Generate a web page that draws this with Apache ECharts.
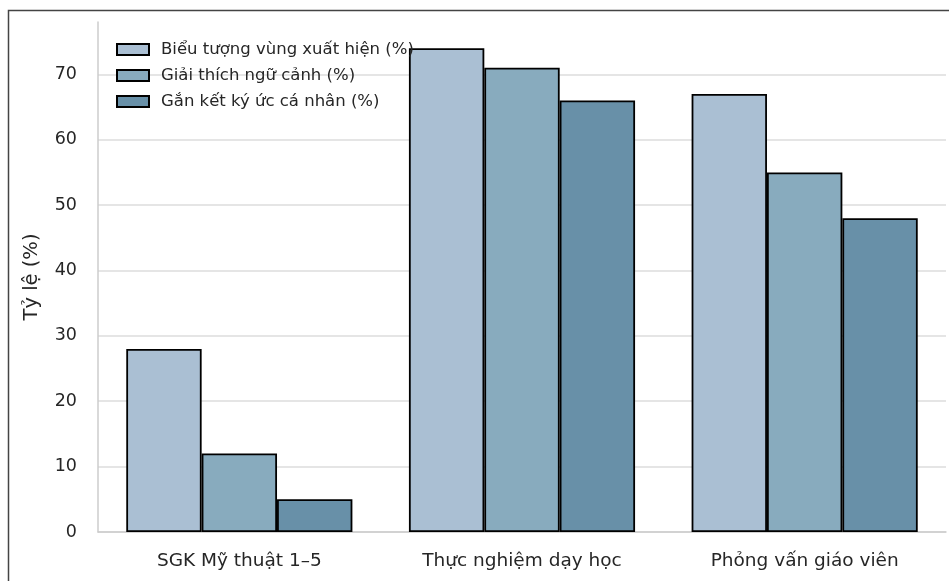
<!DOCTYPE html>
<html>
<head>
<meta charset="utf-8">
<script src="https://cdn.jsdelivr.net/npm/echarts@6/dist/echarts.min.js"></script>
<style>
  html, body { margin: 0; padding: 0; background: #fff; }
  #chart { width: 949px; height: 581px; }
</style>
</head>
<body>
<div id="chart"></div>
<script>
// nhóm trên trục x
var categories = ["SGK Mỹ thuật 1–5", "Thực nghiệm dạy học", "Phỏng vấn giáo viên"];
var seriesNames = ["Biểu tượng vùng xuất hiện (%)", "Giải thích ngữ cảnh (%)", "Gắn kết ký ức cá nhân (%)"];
var bieuTuong = [28, 74, 67];
var giaiThich = [12, 71, 55];
var ganKet = [5, 66, 48];
var yTicks = [0, 10, 20, 30, 40, 50, 60, 70];

var colors = ["#aabfd3", "#88abbe", "#6890a8"];
var font = "DejaVu Sans";

var myChart = echarts.init(document.getElementById("chart"));

function makeBar(name, data, color) {
  return {
    name: name,
    type: "bar",
    data: data,
    barGap: "0%",
    barCategoryGap: "20%",
    itemStyle: {
      color: color,
      borderColor: "#000",
      borderWidth: 1.8,
    },
  };
}

var option = {
  animation: false,
  textStyle: { fontFamily: font },
  graphic: [
    {
      type: "rect",
      shape: { x: 8.5, y: 10.5, width: 1000, height: 1000 },
      style: { fill: "none", stroke: "#444", lineWidth: 1.5 },
      z: -1,
    },
  ],
  grid: {
    left: 98,
    right: 3,
    top: 22,
    bottom: 49,
  },
  legend: {
    orient: "vertical",
    left: 111,
    top: 36,
    icon: "rect",
    itemWidth: 32,
    itemHeight: 11,
    itemGap: 9,
    textStyle: { fontSize: 16.5, color: "#262626", fontFamily: font, padding: [0, 0, 0, 7] },
    data: seriesNames,
  },
  xAxis: {
    type: "category",
    data: categories,
    axisTick: { show: false },
    axisLine: { show: true, lineStyle: { color: "#cccccc", width: 1.5 } },
    axisLabel: { fontSize: 18.5, color: "#262626", margin: 20, fontFamily: font },
  },
  yAxis: {
    type: "value",
    min: 0,
    max: 78,
    interval: 10,
    name: "Tỷ lệ (%)",
    nameLocation: "middle",
    nameGap: 56,
    nameTextStyle: { fontSize: 19.5, color: "#262626", fontFamily: font },
    axisTick: { show: false },
    axisLine: { show: true, lineStyle: { color: "#cccccc", width: 1.5 } },
    axisLabel: {
      fontSize: 17.5,
      color: "#262626",
      margin: 21,
      fontFamily: font,
      formatter: function (v) {
        return yTicks.indexOf(v) >= 0 ? String(v) : "";
      },
    },
    splitLine: { show: true, showMaxLine: false, lineStyle: { color: "#dddddd", width: 1.5 } },
  },
  series: [
    makeBar(seriesNames[0], bieuTuong, colors[0]),
    makeBar(seriesNames[1], giaiThich, colors[1]),
    makeBar(seriesNames[2], ganKet, colors[2]),
  ],
};

myChart.setOption(option);
</script>
</body>
</html>
